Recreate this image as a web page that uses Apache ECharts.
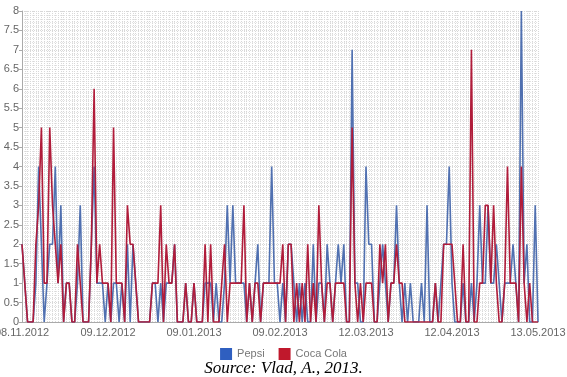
<!DOCTYPE html>
<html>
<head>
	<meta charset="utf-8">
	<title>Pepsi / Coca Cola</title>
	<style>
		html, body { margin: 0; padding: 0; background: #fff; }
		#chart { width: 567px; height: 377px; }
	</style>
</head>
<body>
<div id="chart"></div>
<script src="https://cdn.jsdelivr.net/npm/echarts@6/dist/echarts.min.js"></script>
<script>
	// daily values, 08.11.2012 .. 13.05.2013
	var startDate = '2012-11-08';
	var dayCount = 187;
	var tickLabels = ['08.11.2012', '09.12.2012', '09.01.2013', '09.02.2013', '12.03.2013', '12.04.2013', '13.05.2013'];
	var yTicks = [0, 0.5, 1, 1.5, 2, 2.5, 3, 3.5, 4, 4.5, 5, 5.5, 6, 6.5, 7, 7.5, 8];

	var pepsi = [
		2,1,0,0,0,1,4,2,0,1,
		2,2,4,1,3,0,1,1,0,0,
		1,3,0,0,0,2,4,1,1,1,
		0,1,0,1,1,0,1,0,2,0,
		2,1,0,0,0,0,0,1,1,0,
		1,0,1,1,1,2,0,0,0,1,
		0,0,1,0,0,0,1,1,1,0,
		1,0,0,1,3,1,3,1,1,1,
		1,0,1,0,1,2,0,1,1,1,
		4,1,1,0,1,0,2,2,1,0,
		1,0,1,0,0,2,0,1,1,0,
		2,1,0,1,2,1,2,0,0,7,
		1,1,0,0,4,2,2,0,0,1,
		2,1,0,1,1,3,1,0,1,0,
		1,0,0,0,1,0,3,0,0,1,
		0,1,2,2,4,1,0,0,0,1,
		0,0,1,0,1,3,1,1,3,1,
		1,2,1,0,1,1,1,2,1,0,
		8,1,2,0,0,3,0
	];
	var cocaCola = [
		2,1,0,0,0,2,3,5,1,1,
		5,3,2,1,2,0,1,1,0,0,
		2,1,0,0,0,2,6,1,2,1,
		1,1,0,5,1,1,1,0,3,2,
		2,1,0,0,0,0,0,1,1,1,
		3,0,2,1,1,2,0,0,0,1,
		0,0,1,0,0,0,2,0,2,0,
		0,0,1,2,0,1,1,1,1,1,
		3,0,1,0,1,1,0,1,1,1,
		1,1,1,1,2,0,2,2,0,1,
		0,1,0,2,0,1,0,3,1,0,
		1,1,0,1,1,1,1,0,0,5,
		1,0,1,0,1,1,1,0,0,2,
		1,2,0,1,1,2,1,1,0,0,
		0,0,0,0,0,0,0,0,0,1,
		0,0,2,2,2,2,1,0,0,2,
		0,0,7,0,0,1,1,3,3,1,
		3,1,0,0,1,4,1,1,1,0,
		4,1,0,1,0,0,0
	];

	// day categories dd.mm.yyyy
	function pad(n) { return n < 10 ? '0' + n : '' + n; }
	var days = [];
	var d0 = new Date(startDate + 'T12:00:00');
	for (var i = 0; i < dayCount; i++) {
		var d = new Date(d0.getTime() + i * 86400000);
		days.push(pad(d.getDate()) + '.' + pad(d.getMonth() + 1) + '.' + d.getFullYear());
	}

	var myChart = echarts.init(document.getElementById('chart'));

	var option = {
		animation: false,
		backgroundColor: '#fff',
		title: {
			text: 'Source: Vlad, A., 2013.',
			left: 'center',
			top: 355,
			textStyle: {
				fontFamily: 'Liberation Serif',
				fontStyle: 'italic',
				fontWeight: 'normal',
				fontSize: 17,
				color: '#000'
			}
		},
		legend: {
			data: ['Pepsi', 'Coca Cola'],
			left: 'center',
			top: 343,
			icon: 'rect',
			itemWidth: 12,
			itemHeight: 12,
			itemGap: 14,
			textStyle: { color: '#777', fontSize: 11, fontFamily: 'Liberation Sans' }
		},
		grid: {
			left: 22,
			right: 29,
			top: 11,
			bottom: 55,
			containLabel: false,
			outerBoundsMode: 'none'
		},
		xAxis: {
			type: 'category',
			boundaryGap: false,
			data: days,
			axisLine: { lineStyle: { color: '#aaa' } },
			axisTick: { show: false },
			axisLabel: {
				interval: 30,
				color: '#666',
				fontSize: 11,
				fontFamily: 'Liberation Sans',
				margin: 5,
				formatter: function (v) { return tickLabels.indexOf(v) >= 0 ? v : ''; }
			},
			splitLine: {
				show: true,
				interval: 0,
				lineStyle: { color: '#d8d8d8', type: 'dotted', width: 1 }
			}
		},
		yAxis: {
			type: 'value',
			min: yTicks[0],
			max: yTicks[yTicks.length - 1],
			interval: 0.5,
			axisLine: { show: true, lineStyle: { color: '#aaa' } },
			axisTick: { show: true, length: 3, lineStyle: { color: '#aaa' } },
			axisLabel: { color: '#666', fontSize: 11, fontFamily: 'Liberation Sans', margin: 3 },
			splitLine: { show: true, lineStyle: { color: '#d8d8d8', type: 'dotted' } },
			minorTick: { show: false, splitNumber: 5 },
			minorSplitLine: { show: true, lineStyle: { color: '#e4e4e4', type: 'dotted' } }
		},
		series: [
			{
				name: 'Pepsi',
				type: 'line',
				data: pepsi,
				showSymbol: false,
				symbol: 'none',
				itemStyle: { color: '#2f5fc0' },
				lineStyle: { color: '#5070b0', width: 1.6 }
			},
			{
				name: 'Coca Cola',
				type: 'line',
				data: cocaCola,
				showSymbol: false,
				symbol: 'none',
				itemStyle: { color: '#c0182c' },
				lineStyle: { color: '#b01c3a', width: 1.6 }
			}
		]
	};

	myChart.setOption(option);
</script>
</body>
</html>
